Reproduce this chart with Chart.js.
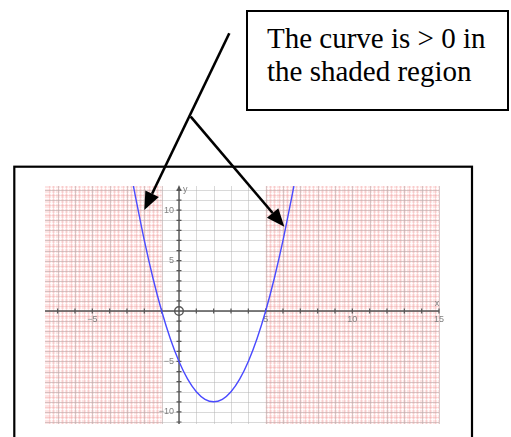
<!DOCTYPE html>
<html>
<head>
<meta charset="utf-8">
<script src="https://cdn.jsdelivr.net/npm/chart.js@4"></script>
<style>
  html, body { margin: 0; padding: 0; background: #fff; }
  #wrap { position: relative; width: 511px; height: 437px; overflow: hidden; }
  #note {
    position: absolute; left: 246px; top: 10px; width: 263px; height: 101px;
    box-sizing: border-box; border: 2px solid #000; background: #fff;
    font-family: 'Liberation Serif', 'Times New Roman', serif; font-size: 29px;
    line-height: 33.4px; padding: 9.8px 0 0 19px; color: #000; white-space: nowrap;
  }
</style>
</head>
<body>
<div id="wrap">
  <canvas id="graph" width="511" height="437"></canvas>
  <div id="note">The curve is &gt; 0 in<br>the shaded region</div>
</div>
<script>
// curve y = f(x)
const curveX = [-2.63, -2.5, -2, -1.5, -1, -0.5, 0, 0.5, 1, 1.5, 2, 2.5, 3, 3.5, 4, 4.5, 5, 5.5, 6, 6.5, 6.63];
const curveY = [12.4, 11.25, 7, 3.25, 0, -2.75, -5, -6.75, -8, -8.75, -9, -8.75, -8, -6.75, -5, -2.75, 0, 3.25, 7, 11.25, 12.4];

// axis window and labels
const xRange = [-7.73, 15];
const yRange = [-11.2, 12.4];
const xTickLabels = [-5, 5, 10, 15];
const yTickLabels = [10, 5, -5, -10];

// shaded intervals (curve > 0)
const shadedFrom = [-7.73, 5];
const shadedTo = [-1, 15];

function arrow(ctx, x1, y1, x2, y2, len, half) {
  const a = Math.atan2(y2 - y1, x2 - x1);
  const bx = x2 - len * Math.cos(a), by = y2 - len * Math.sin(a);
  ctx.beginPath(); ctx.moveTo(x1, y1); ctx.lineTo(bx, by); ctx.stroke();
  ctx.beginPath();
  ctx.moveTo(x2, y2);
  ctx.lineTo(bx + half * Math.sin(a), by - half * Math.cos(a));
  ctx.lineTo(bx - half * Math.sin(a), by + half * Math.cos(a));
  ctx.closePath(); ctx.fill();
}

const decor = {
  id: 'decor',
  beforeDatasetsDraw(chart) {
    const ctx = chart.ctx, a = chart.chartArea;
    const xs = chart.scales.x, ys = chart.scales.y;
    ctx.save();

    // pink shading with a fine grid
    shadedFrom.forEach((f, i) => {
      const l = xs.getPixelForValue(f), r = xs.getPixelForValue(shadedTo[i]);
      ctx.fillStyle = '#fde4e4';
      ctx.fillRect(l, a.top, r - l, a.bottom - a.top);
      ctx.strokeStyle = 'rgba(255,255,255,0.8)';
      ctx.lineWidth = 1;
      ctx.beginPath();
      for (let v = Math.ceil(f * 4) / 4 + 0.125; v <= shadedTo[i]; v += 0.25) {
        const px = Math.round(xs.getPixelForValue(v)) + 0.5;
        ctx.moveTo(px, a.top); ctx.lineTo(px, a.bottom);
      }
      for (let v = Math.ceil(yRange[0] * 2) / 2 + 0.25; v <= yRange[1]; v += 0.5) {
        const py = Math.round(ys.getPixelForValue(v)) + 0.5;
        ctx.moveTo(l, py); ctx.lineTo(r, py);
      }
      ctx.stroke();
      ctx.strokeStyle = 'rgba(240,150,150,0.3)';
      ctx.beginPath();
      for (let v = Math.ceil(f * 4) / 4; v <= shadedTo[i]; v += 0.25) {
        const px = Math.round(xs.getPixelForValue(v)) + 0.5;
        ctx.moveTo(px, a.top); ctx.lineTo(px, a.bottom);
      }
      for (let v = Math.ceil(yRange[0] * 2) / 2; v <= yRange[1]; v += 0.5) {
        const py = Math.round(ys.getPixelForValue(v)) + 0.5;
        ctx.moveTo(l, py); ctx.lineTo(r, py);
      }
      ctx.stroke();
    });

    // gray unit grid
    ctx.strokeStyle = 'rgba(180,180,180,0.5)';
    ctx.lineWidth = 1;
    ctx.beginPath();
    for (let v = Math.ceil(xRange[0]); v <= xRange[1]; v++) {
      const px = Math.round(xs.getPixelForValue(v)) + 0.5;
      ctx.moveTo(px, a.top); ctx.lineTo(px, a.bottom);
    }
    for (let v = Math.ceil(yRange[0]); v <= yRange[1]; v++) {
      const py = Math.round(ys.getPixelForValue(v)) + 0.5;
      ctx.moveTo(a.left, py); ctx.lineTo(a.right, py);
    }
    ctx.stroke();

    // axes
    const x0 = xs.getPixelForValue(0), y0 = ys.getPixelForValue(0);
    ctx.strokeStyle = '#555';
    ctx.fillStyle = '#555';
    ctx.lineWidth = 1.4;
    ctx.beginPath();
    ctx.moveTo(a.left, y0); ctx.lineTo(a.right, y0);
    ctx.moveTo(x0, a.bottom); ctx.lineTo(x0, a.top + 2);
    ctx.stroke();
    ctx.beginPath();
    ctx.moveTo(x0, a.top - 1); ctx.lineTo(x0 - 2.5, a.top + 5); ctx.lineTo(x0 + 2.5, a.top + 5);
    ctx.closePath(); ctx.fill();

    ctx.lineWidth = 1.2;
    ctx.beginPath();
    for (let v = Math.ceil(xRange[0]); v <= xRange[1]; v++) {
      if (v === 0) continue;
      const px = xs.getPixelForValue(v);
      ctx.moveTo(px, y0 - 2.5); ctx.lineTo(px, y0 + 2.5);
    }
    for (let v = Math.ceil(yRange[0]); v <= Math.floor(yRange[1]); v++) {
      if (v === 0) continue;
      const py = ys.getPixelForValue(v);
      ctx.moveTo(x0 - 2.5, py); ctx.lineTo(x0 + 2.5, py);
    }
    ctx.stroke();

    // origin ring
    ctx.lineWidth = 1.4;
    ctx.beginPath(); ctx.arc(x0, y0, 4.3, 0, Math.PI * 2); ctx.stroke();

    // labels
    ctx.fillStyle = '#808080';
    ctx.font = '9px "Liberation Sans", Arial, sans-serif';
    ctx.textAlign = 'center'; ctx.textBaseline = 'top';
    xTickLabels.forEach(v => {
      ctx.fillText(String(v).replace('-', '\u2212'), xs.getPixelForValue(v), y0 + 4);
    });
    ctx.textAlign = 'right'; ctx.textBaseline = 'middle';
    yTickLabels.forEach(v => {
      ctx.fillText(String(v).replace('-', '\u2212'), x0 - 5, ys.getPixelForValue(v));
    });
    ctx.textAlign = 'left'; ctx.textBaseline = 'top';
    ctx.fillText('y', x0 + 4, a.top - 1);
    ctx.textAlign = 'center'; ctx.textBaseline = 'bottom';
    ctx.fillText('x', a.right - 2, y0 - 3);
    ctx.restore();
  },
  afterDraw(chart) {
    const ctx = chart.ctx;
    ctx.save();
    // frame around the graph
    ctx.strokeStyle = '#000';
    ctx.lineWidth = 2.2;
    ctx.strokeRect(14.3, 166.7, 457.7, 300);
    // pointer arrows from the note
    ctx.fillStyle = '#000';
    ctx.lineWidth = 2.6;
    ctx.lineCap = 'butt';
    arrow(ctx, 229.3, 33.3, 144.3, 210, 18, 7.5);
    arrow(ctx, 190.7, 116.7, 284.3, 226.7, 18, 7.5);
    ctx.restore();
  }
};

new Chart(document.getElementById('graph'), {
  type: 'scatter',
  data: {
    datasets: [{
      data: curveX.map((x, i) => ({ x: x, y: curveY[i] })),
      showLine: true,
      borderColor: '#4a4aff',
      borderWidth: 1.4,
      pointRadius: 0,
      cubicInterpolationMode: 'monotone',
      fill: false
    }]
  },
  options: {
    responsive: false,
    animation: false,
    devicePixelRatio: 1,
    layout: { padding: { left: 45, top: 186, right: 72, bottom: 13 } },
    plugins: { legend: { display: false }, tooltip: { enabled: false } },
    scales: {
      x: { type: 'linear', display: false, min: xRange[0], max: xRange[1] },
      y: { type: 'linear', display: false, min: yRange[0], max: yRange[1] }
    }
  },
  plugins: [decor]
});
</script>
</body>
</html>
